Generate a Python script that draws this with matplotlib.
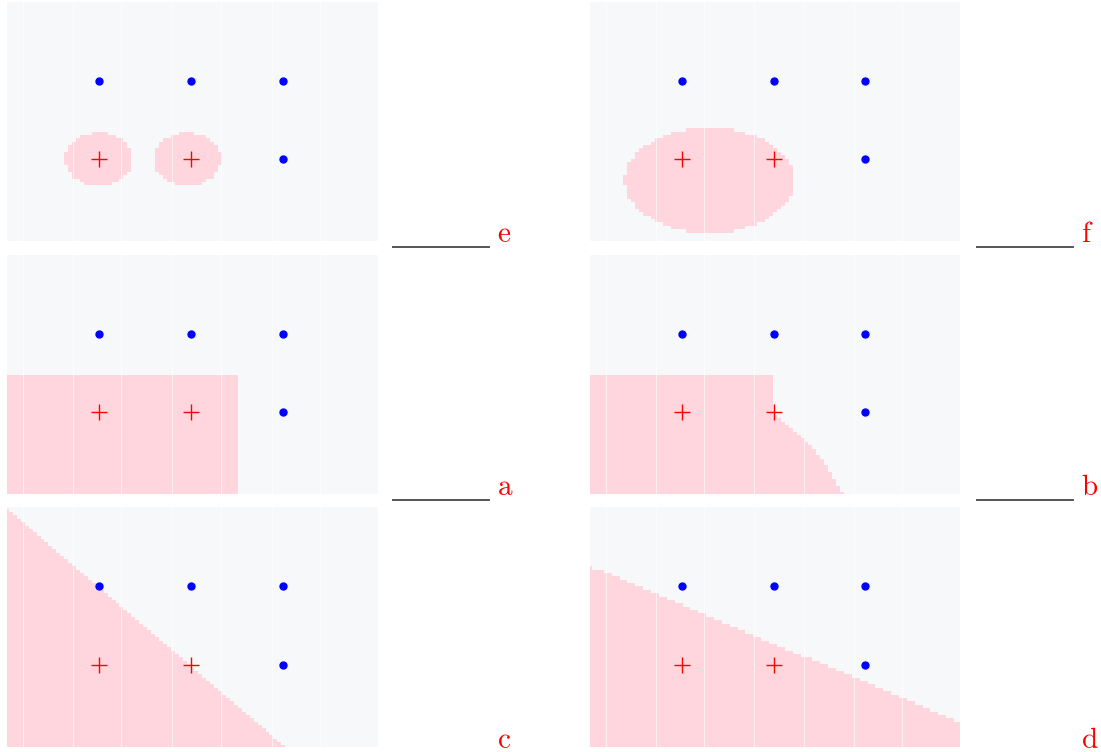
import numpy as np
import matplotlib
matplotlib.use("Agg")
import matplotlib.pyplot as plt
from matplotlib.colors import ListedColormap
from matplotlib.lines import Line2D

plt.rcParams['mathtext.fontset'] = 'cm'

# training points
pos_x = [1, 2]
pos_y = [0, 0]
neg_x = [1, 2, 3, 3]
neg_y = [1, 1, 1, 0]

# panel labels, in grid order
labels = ['e', 'f', 'a', 'b', 'c', 'd']
blanks = [True, True, True, True, False, False]

# region
e_centers = [(1.0, 0.0), (1.96, 0.0)]
e_radii = (0.37, 0.34)
f_center = (1.30, -0.27)
f_radii = (0.92, 0.67)
a_corner = (2.5, 0.5)
b_corner = (2.0, 0.5)
b_curve_y = [-1.05, -1.01, -0.81, -0.59, -0.38, -0.30, 0.0]
b_curve_x = [2.76, 2.74, 2.63, 2.52, 2.38, 2.27, 2.0]
c_line = (2.0, -1.0)      # intercept, slope
d_line = (1.25, -0.49)

# faint vertical stripes seen in the picture
stripes = [0.17, 0.72, 1.24, 1.79, 2.33, 2.88, 3.40]

gx = np.linspace(0, 4.03, 95)
gy = np.linspace(-1.04, 2.0, 72)
X, Y = np.meshgrid(gx, gy)


def region(name):
    if name == 'e':
        m = np.zeros_like(X, dtype=bool)
        for cx, cy in e_centers:
            m |= ((X - cx) / e_radii[0]) ** 2 + ((Y - cy) / e_radii[1]) ** 2 < 1
        return m
    if name == 'f':
        return ((X - f_center[0]) / f_radii[0]) ** 2 + ((Y - f_center[1]) / f_radii[1]) ** 2 < 1
    if name == 'a':
        return (X < a_corner[0]) & (Y < a_corner[1])
    if name == 'b':
        xb = np.interp(Y, b_curve_y, b_curve_x)
        return ((X < b_corner[0]) & (Y < b_corner[1])) | ((Y <= 0) & (X < xb))
    if name == 'c':
        return Y < c_line[0] + c_line[1] * X
    if name == 'd':
        return Y < d_line[0] + d_line[1] * X


cmap = ListedColormap(['#f6f8fa', '#ffd5de'])

fig = plt.figure(figsize=(11.01, 7.52), dpi=100)
W, H = 1101, 752
lefts = [7, 590]
rights = [378, 960]
tops = [2, 255, 507]
bottoms = [241, 494, 747]
label_x = [497, 1081]

for k, name in enumerate(labels):
    r, c = divmod(k, 2)
    ax = fig.add_axes([lefts[c] / W, 1 - bottoms[r] / H,
                       (rights[c] - lefts[c]) / W, (bottoms[r] - tops[r]) / H])
    ax.pcolormesh(gx, gy, region(name).astype(int), cmap=cmap, vmin=0, vmax=1,
                  shading='nearest')
    for s in stripes:
        ax.axvline(s, color='white', lw=0.8, alpha=0.6)
    ax.plot(pos_x, pos_y, '+', color='red', ms=11, mew=1)
    ax.plot(neg_x, neg_y, 'o', color='blue', ms=5)
    ax.set_xlim(0, 4.03)
    ax.set_ylim(-1.04, 2.0)
    ax.set_xticks([])
    ax.set_yticks([])
    for sp in ax.spines.values():
        sp.set_visible(False)

    if blanks[k]:
        yl = 1 - (bottoms[r] + 6) / H
        x0 = (label_x[c] - 104) / W
        x1 = (label_x[c] - 8) / W
        fig.add_artist(Line2D([x0, x1], [yl, yl], color='#555555', lw=1.4))
    fig.text(label_x[c] / W, 1 - (bottoms[r] + 1) / H, r'$\mathrm{%s}$' % name,
             color='red', fontsize=21, ha='left', va='baseline')

fig.savefig('out.png', dpi=100)
